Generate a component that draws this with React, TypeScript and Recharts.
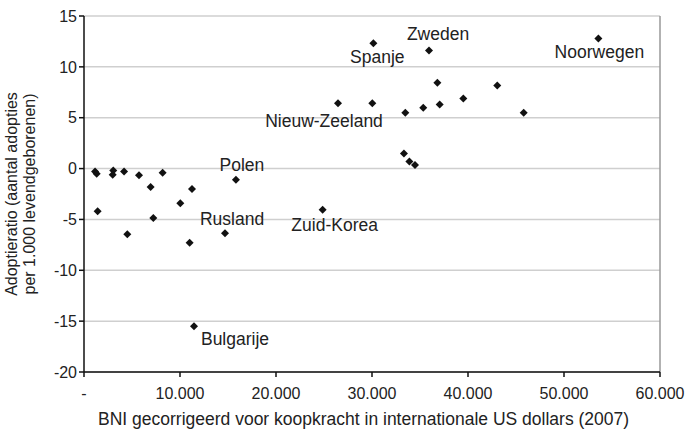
import { ScatterChart, Scatter, XAxis, YAxis, CartesianGrid, ReferenceLine } from 'recharts';

// BNI (koopkracht, US$ 2007) per land
const bni = [
  1150, 1320, 1420, 3050, 2990, 4170, 4510, 5730, 6940, 7220, 8190, 10030, 11250, 11000, 14690, 15830,
  11460, 24860,
  30140, 35940, 26460, 30030, 33470, 35340, 36810, 37050, 33330, 33890, 34480,
  53580, 39510, 43050, 45800,
];
// adoptieratio per 1.000 levendgeborenen
const adoptie = [
  -0.3, -0.5, -4.2, -0.2, -0.6, -0.3, -6.45, -0.65, -1.8, -4.85, -0.4, -3.4, -2.0, -7.3, -6.35, -1.1,
  -15.5, -4.06,
  12.33, 11.6, 6.43, 6.43, 5.48, 5.97, 8.43, 6.3, 1.47, 0.69, 0.36,
  12.8, 6.88, 8.16, 5.48,
];
const landen = [
  '', '', '', '', '', '', '', '', '', '', '', '', '', '', 'Rusland', 'Polen',
  'Bulgarije', 'Zuid-Korea',
  'Spanje', 'Zweden', 'Nieuw-Zeeland', '', '', '', '', '', '', '', '',
  'Noorwegen', '', '', '',
];
const yTicks = [-20, -15, -10, -5, 0, 5, 10, 15];
const xTicks = [0, 10000, 20000, 30000, 40000, 50000, 60000];

const data = bni.map((x, i) => ({ x, y: adoptie[i], naam: landen[i] }));

// waar de landnaam t.o.v. het punt staat
const labelOffset: Record<string, [number, number]> = {
  Polen: [6, -15],
  Rusland: [7, -14],
  'Zuid-Korea': [12, 15],
  Bulgarije: [41, 13],
  'Nieuw-Zeeland': [-14, 18],
  Spanje: [4, 14],
  Zweden: [9, -17],
  Noorwegen: [1, 14],
};

const FONT = '"Liberation Sans", Arial, sans-serif';

const Diamond = (props: any) => {
  const { cx, cy, payload } = props;
  const s = 4;
  const off = payload.naam ? labelOffset[payload.naam] : null;
  return (
    <g>
      <polygon points={`${cx},${cy - s} ${cx + s},${cy} ${cx},${cy + s} ${cx - s},${cy}`} fill="#111" />
      {off && (
        <text
          x={cx + off[0]}
          y={cy + off[1]}
          textAnchor="middle"
          dominantBaseline="central"
          fontSize={17.5}
          fontFamily={FONT}
          fill="#222"
        >
          {payload.naam}
        </text>
      )}
    </g>
  );
};

const fmtX = (v: number) => (v === 0 ? '-' : v.toLocaleString('nl-NL'));

export default function App() {
  return (
    <div style={{ position: 'absolute', left: 0, top: 0, background: '#fff' }}>
      <ScatterChart width={685} height={430} margin={{ top: 16, right: 25, bottom: 0, left: 0 }}>
        <CartesianGrid vertical={false} stroke="#cfcfcf" strokeWidth={1.5} />
        <ReferenceLine x={60000} stroke="#999" strokeWidth={1.5} />
        <XAxis
          type="number"
          dataKey="x"
          domain={[0, 60000]}
          ticks={xTicks}
          tickFormatter={fmtX}
          height={58}
          stroke="#111"
          strokeWidth={1.5}
          tickSize={5}
          tickMargin={11}
          tick={{ fill: '#222', fontSize: 16, fontFamily: FONT }}
          label={() => (
            <text x={98} y={425} textAnchor="start" fontSize={17.5} fontFamily={FONT} fill="#222">
              BNI gecorrigeerd voor koopkracht in internationale US dollars (2007)
            </text>
          )}
        />
        <YAxis
          type="number"
          dataKey="y"
          domain={[-20, 15]}
          ticks={yTicks}
          width={84}
          stroke="#111"
          strokeWidth={1.5}
          tickSize={5}
          tick={{ fill: '#222', fontSize: 16, fontFamily: FONT }}
          label={() => (
            <text transform="translate(17,194) rotate(-90)" textAnchor="middle" fontSize={16} fontFamily={FONT} fill="#222">
              <tspan x={0} dy={0}>Adoptieratio (aantal adopties</tspan>
              <tspan x={0} dy={18}>per 1.000 levendgeborenen)</tspan>
            </text>
          )}
        />
        <Scatter data={data} shape={Diamond} isAnimationActive={false} />
      </ScatterChart>
    </div>
  );
}
